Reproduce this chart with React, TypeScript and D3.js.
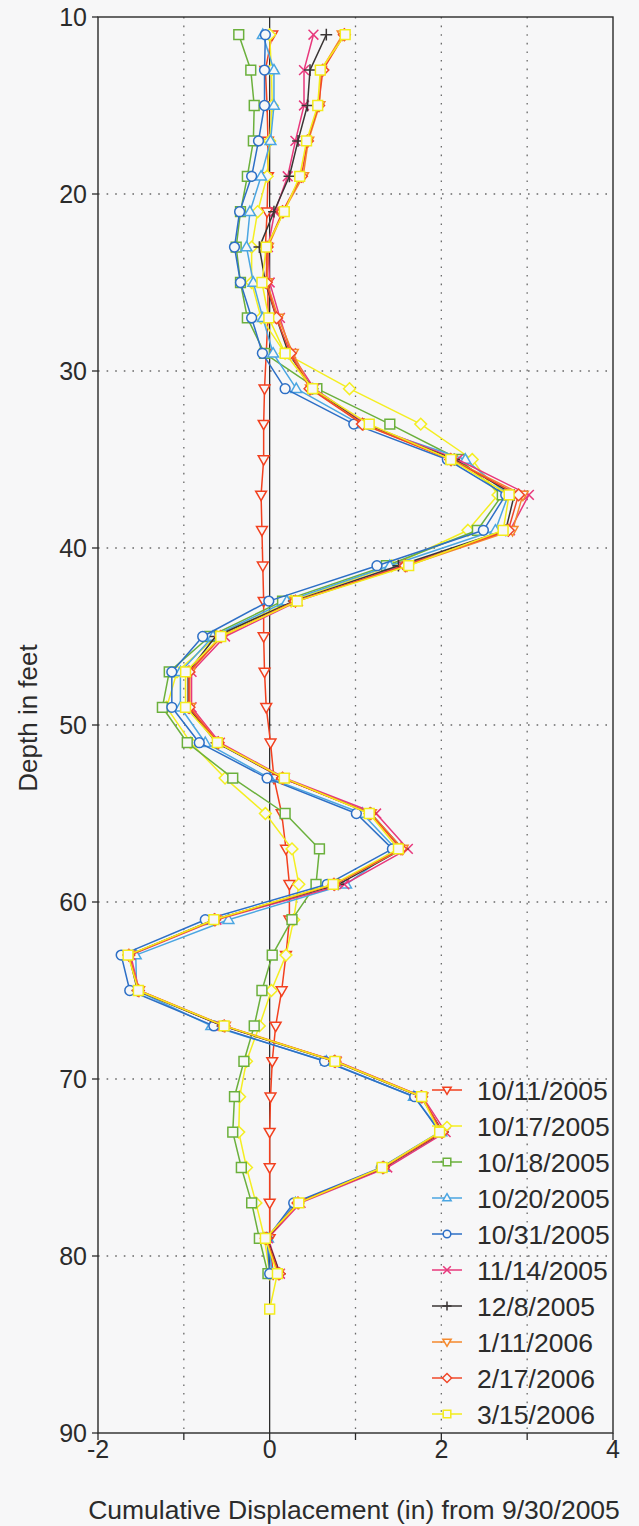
import React from "react";
import * as d3 from "d3";

// Inclinometer readings: depth (ft) vs cumulative displacement (in) since 9/30/2005
const depths = [11, 13, 15, 17, 19, 21, 23, 25, 27, 29, 31, 33, 35, 37, 39, 41, 43, 45, 47, 49, 51, 53, 55, 57, 59, 61, 63, 65, 67, 69, 71, 73, 75, 77, 79, 81];
const depthsWithToe = [...depths, 83];

const s2005_10_11 = [0.03, -0.05, -0.03, -0.02, -0.02, -0.03, -0.05, -0.02, -0.02, -0.04, -0.06, -0.07, -0.07, -0.1, -0.09, -0.08, -0.07, -0.07, -0.06, -0.04, 0.01, 0.05, 0.14, 0.19, 0.23, 0.23, 0.19, 0.14, 0.07, 0.03, 0.01, 0.0, 0.0, 0.0, 0.0, 0.04];
const s2005_10_17 = [0.0, 0.02, 0.03, 0.0, -0.03, -0.14, -0.21, -0.21, -0.1, 0.18, 0.93, 1.76, 2.36, 2.66, 2.31, 1.42, 0.25, -0.62, -1.08, -1.2, -0.92, -0.52, -0.05, 0.26, 0.34, 0.28, 0.19, 0.02, -0.12, -0.27, -0.35, -0.36, -0.27, -0.16, -0.06, 0.0];
const s2005_10_18 = [-0.36, -0.22, -0.18, -0.19, -0.26, -0.34, -0.39, -0.34, -0.26, -0.06, 0.55, 1.4, 2.21, 2.71, 2.42, 1.36, 0.15, -0.7, -1.17, -1.25, -0.96, -0.43, 0.18, 0.58, 0.54, 0.26, 0.03, -0.09, -0.18, -0.3, -0.41, -0.43, -0.33, -0.21, -0.12, -0.02];
const s2005_10_20 = [-0.08, 0.05, 0.05, 0.01, -0.1, -0.23, -0.27, -0.19, -0.08, 0.04, 0.31, 1.05, 2.28, 2.78, 2.63, 1.4, 0.2, -0.66, -1.04, -1.04, -0.75, 0.0, 1.08, 1.47, 0.89, -0.48, -1.56, -1.55, -0.68, 0.66, 1.68, 2.0, 1.33, 0.3, -0.02, 0.03];
const s2005_10_31 = [-0.05, -0.06, -0.06, -0.13, -0.21, -0.35, -0.41, -0.34, -0.21, -0.085, 0.18, 0.98, 2.07, 2.75, 2.49, 1.25, -0.01, -0.78, -1.14, -1.14, -0.82, -0.03, 1.01, 1.43, 0.67, -0.75, -1.73, -1.63, -0.65, 0.64, 1.69, 1.98, 1.3, 0.28, -0.03, 0.0];
const s2005_11_14 = [0.51, 0.4, 0.4, 0.3, 0.21, 0.06, -0.02, 0.0, 0.12, 0.25, 0.52, 1.12, 2.19, 3.02, 2.8, 1.55, 0.33, -0.52, -0.91, -0.91, -0.58, 0.18, 1.24, 1.61, 0.87, -0.62, -1.62, -1.52, -0.55, 0.78, 1.78, 2.05, 1.37, 0.36, -0.02, 0.12];
const s2005_12_08 = [0.66, 0.47, 0.44, 0.33, 0.23, 0.05, -0.12, -0.05, 0.08, 0.22, 0.5, 1.1, 2.15, 2.85, 2.75, 1.5, 0.28, -0.63, -0.95, -0.95, -0.62, 0.15, 1.18, 1.55, 0.8, -0.65, -1.64, -1.54, -0.55, 0.75, 1.76, 2.02, 1.33, 0.33, -0.03, 0.12];
const s2006_01_11 = [0.85, 0.6, 0.58, 0.45, 0.39, 0.16, -0.02, -0.03, 0.1, 0.27, 0.48, 1.09, 2.12, 2.95, 2.83, 1.6, 0.3, -0.56, -0.93, -0.93, -0.6, 0.16, 1.18, 1.55, 0.76, -0.63, -1.64, -1.52, -0.52, 0.77, 1.78, 2.0, 1.32, 0.34, -0.04, 0.1];
const s2006_02_17 = [0.87, 0.62, 0.57, 0.44, 0.37, 0.15, -0.03, -0.04, 0.08, 0.24, 0.47, 1.08, 2.11, 2.9, 2.78, 1.58, 0.3, -0.57, -0.94, -0.94, -0.6, 0.15, 1.17, 1.53, 0.75, -0.64, -1.64, -1.53, -0.53, 0.76, 1.77, 2.01, 1.32, 0.33, -0.04, 0.11];
const s2006_03_15 = [0.88, 0.59, 0.56, 0.43, 0.35, 0.17, -0.04, -0.09, -0.01, 0.18, 0.5, 1.16, 2.11, 2.79, 2.72, 1.62, 0.32, -0.57, -0.98, -0.98, -0.61, 0.17, 1.16, 1.5, 0.74, -0.65, -1.65, -1.53, -0.53, 0.76, 1.77, 1.98, 1.31, 0.34, -0.05, 0.09, 0.0];

const xTicks = [-2, -1, 0, 1, 2, 3, 4];
const xTickLabels = ["-2", "", "0", "", "2", "", "4"];
const yTicks = [10, 20, 30, 40, 50, 60, 70, 80, 90];
const xGrid = [-1, 1, 2, 3];
const yGrid = [20, 30, 40, 50, 60, 70, 80];

type Sym = "triDown" | "diamond" | "square" | "triUp" | "circle" | "x" | "plus";

const seriesDefs: { label: string; values: number[]; depths: number[]; color: string; sym: Sym }[] = [
  { label: "10/11/2005", values: s2005_10_11, depths, color: "#f2401f", sym: "triDown" },
  { label: "10/17/2005", values: s2005_10_17, depths, color: "#f4ee22", sym: "diamond" },
  { label: "10/18/2005", values: s2005_10_18, depths, color: "#6bb03c", sym: "square" },
  { label: "10/20/2005", values: s2005_10_20, depths, color: "#4ba6e2", sym: "triUp" },
  { label: "10/31/2005", values: s2005_10_31, depths, color: "#2d6fc6", sym: "circle" },
  { label: "11/14/2005", values: s2005_11_14, depths, color: "#e8387c", sym: "x" },
  { label: "12/8/2005", values: s2005_12_08, depths, color: "#3a3535", sym: "plus" },
  { label: "1/11/2006", values: s2006_01_11, depths, color: "#f5892c", sym: "triDown" },
  { label: "2/17/2006", values: s2006_02_17, depths, color: "#f1482a", sym: "diamond" },
  { label: "3/15/2006", values: s2006_03_15, depths: depthsWithToe, color: "#f3ec1c", sym: "square" },
];

const W = 639;
const H = 1526;
const BG = "#f7f7f8";
const FONT = "'Liberation Sans', Arial, Helvetica, sans-serif";
const INK = "#2b2b2b";

const x = d3.scaleLinear().domain([-2, 4]).range([98, 613]);
const y = d3.scaleLinear().domain([10, 90]).range([17, 1433]);

function markerPath(sym: Sym, s: number): string {
  switch (sym) {
    case "square":
      return `M${-s},${-s}H${s}V${s}H${-s}Z`;
    case "circle":
      return `M${s},0A${s},${s} 0 1,1 ${-s},0A${s},${s} 0 1,1 ${s},0Z`;
    case "triUp":
      return `M0,${-s * 1.15}L${s * 1.1},${s * 0.75}L${-s * 1.1},${s * 0.75}Z`;
    case "triDown":
      return `M0,${s * 1.15}L${s * 1.1},${-s * 0.75}L${-s * 1.1},${-s * 0.75}Z`;
    case "diamond":
      return `M0,${-s * 1.2}L${s * 1.2},0L0,${s * 1.2}L${-s * 1.2},0Z`;
    case "x":
      return `M${-s},${-s}L${s},${s}M${-s},${s}L${s},${-s}`;
    case "plus":
      return `M${-s * 1.2},0H${s * 1.2}M0,${-s * 1.2}V${s * 1.2}`;
  }
}

function Marker({ sym, color, cx, cy, s }: { sym: Sym; color: string; cx: number; cy: number; s: number }) {
  const open = sym === "x" || sym === "plus";
  return (
    <path
      d={markerPath(sym, s)}
      transform={`translate(${cx},${cy})`}
      fill={open ? "none" : BG}
      stroke={color}
      strokeWidth={1.5}
    />
  );
}

export default function App() {
  const line = d3
    .line<[number, number]>()
    .x((d) => x(d[0]))
    .y((d) => y(d[1]));

  const legendX = 432;
  const legendY0 = 1090;
  const legendDy = 36;

  return (
    <svg
      width={W}
      height={H}
      viewBox={`0 0 ${W} ${H}`}
      style={{ position: "absolute", left: 0, top: 0, display: "block" }}
    >
      <rect x={0} y={0} width={W} height={H} fill={BG} />

      {/* grid */}
      {xGrid.map((v) => (
        <line key={`gx${v}`} x1={x(v)} x2={x(v)} y1={y(10)} y2={y(90)} stroke="#6a6a6a" strokeWidth={1.3} strokeDasharray="1.6,7" />
      ))}
      {yGrid.map((v) => (
        <line key={`gy${v}`} x1={x(-2)} x2={x(4)} y1={y(v)} y2={y(v)} stroke="#6a6a6a" strokeWidth={1.3} strokeDasharray="1.6,7" />
      ))}

      {/* zero displacement line */}
      <line x1={x(0)} x2={x(0)} y1={y(10)} y2={y(90)} stroke="#1e1e1e" strokeWidth={1.2} />

      {/* series */}
      {seriesDefs.map((s) => {
        const pts: [number, number][] = s.values.map((v, i) => [v, s.depths[i]]);
        return (
          <g key={s.label}>
            <path d={line(pts) || ""} fill="none" stroke={s.color} strokeWidth={1.5} strokeLinejoin="round" />
            {pts.map((p, i) => (
              <Marker key={i} sym={s.sym} color={s.color} cx={x(p[0])} cy={y(p[1])} s={4.9} />
            ))}
          </g>
        );
      })}

      {/* frame */}
      <rect x={x(-2)} y={y(10)} width={x(4) - x(-2)} height={y(90) - y(10)} fill="none" stroke="#2a2a2a" strokeWidth={1.4} />

      {/* y axis ticks and labels */}
      {yTicks.map((v) => (
        <g key={`yt${v}`}>
          <line x1={x(-2) - 6} x2={x(-2)} y1={y(v)} y2={y(v)} stroke="#2a2a2a" strokeWidth={1.3} />
          <text x={87} y={y(v)} dy="0.36em" textAnchor="end" fontFamily={FONT} fontSize={25} fill={INK}>
            {v}
          </text>
        </g>
      ))}

      {/* x axis ticks and labels */}
      {xTicks.map((v, i) => (
        <g key={`xt${v}`}>
          <line x1={x(v)} x2={x(v)} y1={y(90)} y2={y(90) + 7} stroke="#2a2a2a" strokeWidth={1.3} />
          {xTickLabels[i] && (
            <text x={x(v)} y={1458} textAnchor="middle" fontFamily={FONT} fontSize={25} fill={INK}>
              {xTickLabels[i]}
            </text>
          )}
        </g>
      ))}

      {/* axis titles */}
      <text x={354} y={1519} textAnchor="middle" fontFamily={FONT} fontSize={26.5} fill={INK}>
        Cumulative Displacement (in) from 9/30/2005
      </text>
      <text transform={`translate(37,718) rotate(-90)`} textAnchor="middle" fontFamily={FONT} fontSize={26} fill={INK}>
        Depth in feet
      </text>

      {/* legend */}
      {seriesDefs.map((s, i) => {
        const cy = legendY0 + i * legendDy;
        return (
          <g key={`lg${s.label}`}>
            <line x1={legendX} x2={legendX + 30} y1={cy} y2={cy} stroke={s.color} strokeWidth={1.5} />
            <Marker sym={s.sym} color={s.color} cx={legendX + 15} cy={cy} s={3.8} />
            <text x={477} y={cy} dy="0.36em" fontFamily={FONT} fontSize={26.5} fill={INK}>
              {s.label}
            </text>
          </g>
        );
      })}
    </svg>
  );
}
